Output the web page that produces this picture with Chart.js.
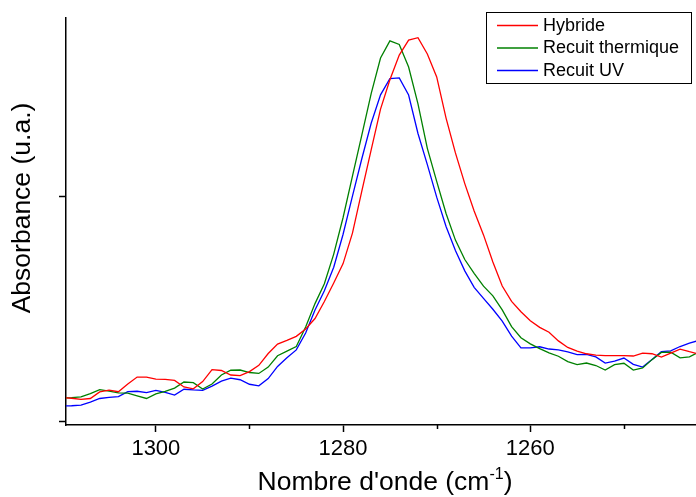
<!DOCTYPE html>
<html>
<head>
<meta charset="utf-8">
<script src="https://cdn.jsdelivr.net/npm/chart.js@4.4.0/dist/chart.umd.min.js"></script>
<style>
  html, body { margin: 0; padding: 0; background: #fff; }
  #wrap { width: 696px; height: 497px; }
</style>
</head>
<body>
<div id="wrap"><canvas id="chart" width="696" height="497"></canvas></div>
<script>
// wavenumber (cm-1)
const wavenumbers = [
  1310, 1309, 1308, 1307, 1306, 1305, 1304, 1303, 1302, 1301, 1300,
  1299, 1298, 1297, 1296, 1295, 1294, 1293, 1292, 1291, 1290,
  1289, 1288, 1287, 1286, 1285, 1284, 1283, 1282, 1281, 1280,
  1279, 1278, 1277, 1276, 1275, 1274, 1273, 1272, 1271, 1270,
  1269, 1268, 1267, 1266, 1265, 1264, 1263, 1262, 1261, 1260,
  1259, 1258, 1257, 1256, 1255, 1254, 1253, 1252, 1251, 1250,
  1249, 1248, 1247, 1246, 1245, 1244, 1243, 1242
];
const hybride = [
  0.108, 0.105, 0.100, 0.104, 0.133, 0.141, 0.134, 0.168, 0.199, 0.199, 0.190,
  0.189, 0.184, 0.155, 0.147, 0.179, 0.232, 0.228, 0.208, 0.205, 0.223,
  0.251, 0.303, 0.345, 0.361, 0.379, 0.412, 0.458, 0.533, 0.615, 0.701,
  0.836, 1.022, 1.204, 1.385, 1.515, 1.624, 1.690, 1.701, 1.629, 1.527,
  1.345, 1.191, 1.055, 0.934, 0.828, 0.708, 0.602, 0.534, 0.488, 0.448,
  0.419, 0.397, 0.359, 0.330, 0.314, 0.302, 0.296, 0.294, 0.294, 0.294,
  0.292, 0.305, 0.302, 0.287, 0.305, 0.322, 0.311, 0.301
];
const recuitThermique = [
  0.106, 0.108, 0.111, 0.126, 0.143, 0.137, 0.129, 0.128, 0.116, 0.104, 0.124,
  0.136, 0.150, 0.177, 0.174, 0.146, 0.168, 0.208, 0.229, 0.230, 0.219,
  0.215, 0.243, 0.293, 0.314, 0.334, 0.420, 0.524, 0.612, 0.743, 0.905,
  1.088, 1.270, 1.453, 1.611, 1.687, 1.671, 1.571, 1.408, 1.211, 1.065,
  0.923, 0.805, 0.719, 0.658, 0.601, 0.558, 0.496, 0.422, 0.373, 0.346,
  0.325, 0.306, 0.291, 0.267, 0.254, 0.261, 0.250, 0.230, 0.254, 0.260,
  0.230, 0.239, 0.276, 0.308, 0.309, 0.284, 0.288, 0.310
];
const recuitUV = [
  0.071, 0.072, 0.075, 0.088, 0.104, 0.109, 0.112, 0.134, 0.136, 0.130, 0.140,
  0.131, 0.119, 0.145, 0.142, 0.140, 0.159, 0.181, 0.194, 0.187, 0.167,
  0.160, 0.192, 0.246, 0.284, 0.319, 0.394, 0.496, 0.581, 0.685, 0.831,
  1.000, 1.165, 1.322, 1.448, 1.520, 1.523, 1.447, 1.277, 1.139, 0.995,
  0.865, 0.759, 0.669, 0.596, 0.547, 0.499, 0.446, 0.380, 0.328, 0.328,
  0.333, 0.323, 0.319, 0.310, 0.298, 0.299, 0.288, 0.261, 0.269, 0.283,
  0.255, 0.243, 0.277, 0.311, 0.315, 0.334, 0.349, 0.361
];
const seriesNames = ['Hybride', 'Recuit thermique', 'Recuit UV'];
const seriesColors = ['#ff0000', '#008000', '#0000ff'];
const majorTicks = [1300, 1280, 1260];
const minorTicks = [1290, 1270, 1250];
const yTicks = [0, 1];
const xTitle = "Nombre d'onde (cm";
const xTitleSup = '-1';
const yTitle = 'Absorbance (u.a.)';

const FONT = '"Liberation Sans", Arial, Helvetica, sans-serif';

function pairs(values) {
  return wavenumbers.map((w, i) => ({ x: w, y: values[i] }));
}

// titles, legend box and the short minor ticks
const decorations = {
  id: 'decorations',
  afterDraw(chart) {
    const ctx = chart.ctx;
    const xs = chart.scales.x;
    const area = chart.chartArea;
    ctx.save();
    ctx.strokeStyle = '#000';
    ctx.lineWidth = 1.5;
    minorTicks.forEach(v => {
      const px = Math.round(xs.getPixelForValue(v)) + 0.5;
      ctx.beginPath();
      ctx.moveTo(px, area.bottom);
      ctx.lineTo(px, area.bottom + 4);
      ctx.stroke();
    });

    ctx.fillStyle = '#000';
    // y title
    ctx.save();
    ctx.font = '26.5px ' + FONT;
    ctx.translate(23, 208);
    ctx.rotate(-Math.PI / 2);
    ctx.textAlign = 'center';
    ctx.textBaseline = 'middle';
    ctx.fillText(yTitle, 0, 0);
    ctx.restore();

    // x title with superscript
    ctx.textBaseline = 'alphabetic';
    ctx.textAlign = 'left';
    ctx.font = '26.5px ' + FONT;
    const w1 = ctx.measureText(xTitle).width;
    const w3 = ctx.measureText(')').width;
    ctx.font = '16px ' + FONT;
    const w2 = ctx.measureText(xTitleSup).width;
    const x0 = 385 - (w1 + w2 + w3) / 2;
    const base = 490;
    ctx.font = '26.5px ' + FONT;
    ctx.fillText(xTitle, x0, base);
    ctx.font = '16px ' + FONT;
    ctx.fillText(xTitleSup, x0 + w1, base - 11);
    ctx.font = '26.5px ' + FONT;
    ctx.fillText(')', x0 + w1 + w2, base);

    // legend
    ctx.lineWidth = 1;
    ctx.strokeRect(486.5, 12.5, 205, 71);
    const rows = [25, 47.5, 70];
    ctx.font = '18px ' + FONT;
    ctx.textBaseline = 'middle';
    chart.data.datasets.forEach((ds, i) => {
      ctx.strokeStyle = ds.borderColor;
      ctx.lineWidth = 1.3;
      ctx.beginPath();
      ctx.moveTo(497, rows[i] + 0.5);
      ctx.lineTo(538, rows[i] + 0.5);
      ctx.stroke();
      ctx.fillStyle = '#000';
      ctx.fillText(ds.label, 543, rows[i] + 1);
    });
    ctx.restore();
  }
};

new Chart(document.getElementById('chart'), {
  type: 'line',
  data: {
    datasets: [
      { label: seriesNames[0], data: pairs(hybride), borderColor: seriesColors[0] },
      { label: seriesNames[1], data: pairs(recuitThermique), borderColor: seriesColors[1] },
      { label: seriesNames[2], data: pairs(recuitUV), borderColor: seriesColors[2] }
    ].map(d => Object.assign(d, { borderWidth: 1.3, pointRadius: 0, tension: 0, fill: false }))
  },
  options: {
    responsive: false,
    animation: false,
    devicePixelRatio: 1,
    layout: { padding: { top: 18, right: 0, bottom: 0, left: 0 } },
    plugins: { legend: { display: false }, tooltip: { enabled: false } },
    scales: {
      x: {
        type: 'linear',
        reverse: true,
        min: 1242.3,
        max: 1309.6,
        afterBuildTicks: s => {
          s.ticks = majorTicks.concat(minorTicks).sort((a, b) => b - a).map(v => ({ value: v }));
        },
        afterFit: s => { s.height = 72; },
        ticks: {
          autoSkip: false,
          maxRotation: 0,
          padding: 4,
          color: '#000',
          font: { family: FONT, size: 22 },
          callback: v => majorTicks.includes(v) ? String(v) : ''
        },
        grid: {
          drawOnChartArea: false,
          tickLength: 7,
          tickWidth: 1.5,
          tickColor: c => (c.tick && majorTicks.includes(c.tick.value)) ? '#000' : 'rgba(0,0,0,0)'
        },
        border: { color: '#000', width: 1.5 }
      },
      y: {
        min: -0.0133,
        max: 1.788,
        afterBuildTicks: s => { s.ticks = yTicks.map(v => ({ value: v })); },
        afterFit: s => { s.width = 66; },
        ticks: { callback: () => '', padding: 0 },
        grid: { drawOnChartArea: false, tickLength: 7, tickWidth: 1.5, tickColor: '#000' },
        border: { color: '#000', width: 1.5 }
      }
    }
  },
  plugins: [decorations]
});
</script>
</body>
</html>
